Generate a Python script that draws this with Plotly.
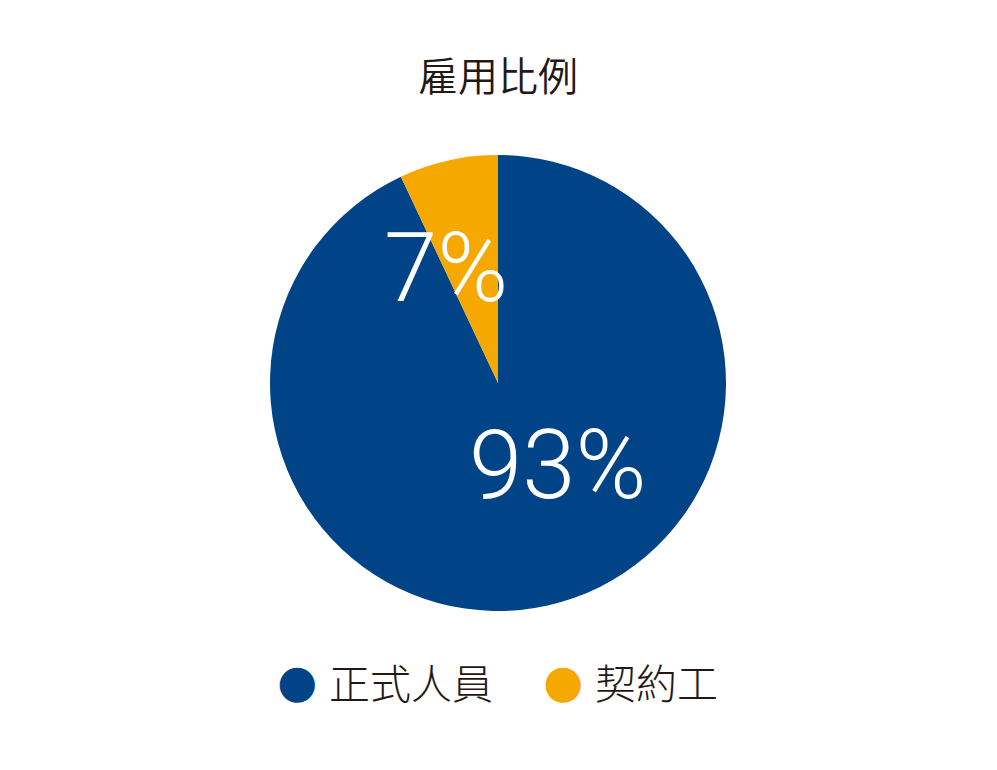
import plotly.graph_objects as go

# 雇用比例
labels = ["正式人員", "契約工"]
values = [93, 7]
colors = ["#004387", "#F5A800"]
title_text = "雇用比例"

W, H = 997, 770
OX, OY = 8, 8  # page body margin
cjk = "Noto Sans CJK TC"


def fx(p):
    return (p - OX) / W


def fy(p):
    return 1 - (p - OY) / H


fig = go.Figure()
fig.add_trace(go.Pie(
    labels=labels,
    values=values,
    sort=False,
    direction="clockwise",
    rotation=0,
    marker=dict(colors=colors, line=dict(width=0)),
    textinfo="none",
    hoverinfo="label+percent",
    showlegend=False,
    domain=dict(x=[fx(270), fx(726)], y=[fy(611), fy(155)]),
))

# 百分比標籤
pct_pos = [(557, 465), (446, 268)]
annotations = []
for (px_, py_), v in zip(pct_pos, values):
    annotations.append(dict(
        x=fx(px_), y=fy(py_), xref="paper", yref="paper",
        text=f"{v}%", showarrow=False,
        font=dict(family="Roboto", size=96, color="white", weight=300),
        xanchor="center", yanchor="middle",
    ))

# 圖例 (圓點 + 文字)
legend_x = [297, 563]
legend_y = 681
for lx, lab, col in zip(legend_x, labels, colors):
    annotations.append(dict(
        x=fx(lx), y=fy(legend_y), xref="paper", yref="paper",
        text="●", showarrow=False,
        font=dict(family="DejaVu Sans", size=46, color=col),
        xanchor="center", yanchor="middle",
    ))
    annotations.append(dict(
        x=fx(lx + 30), y=fy(legend_y), xref="paper", yref="paper",
        text=lab, showarrow=False,
        font=dict(family=cjk, size=41, color="#231815", weight=300),
        xanchor="left", yanchor="middle",
    ))

annotations.append(dict(
    x=fx(498), y=fy(74), xref="paper", yref="paper",
    text=title_text, showarrow=False,
    font=dict(family=cjk, size=40, color="#231815", weight=350),
    xanchor="center", yanchor="middle",
))

fig.update_layout(
    width=W, height=H,
    margin=dict(l=0, r=0, t=0, b=0),
    paper_bgcolor="white",
    plot_bgcolor="white",
    annotations=annotations,
)

fig.write_html("out.html")
